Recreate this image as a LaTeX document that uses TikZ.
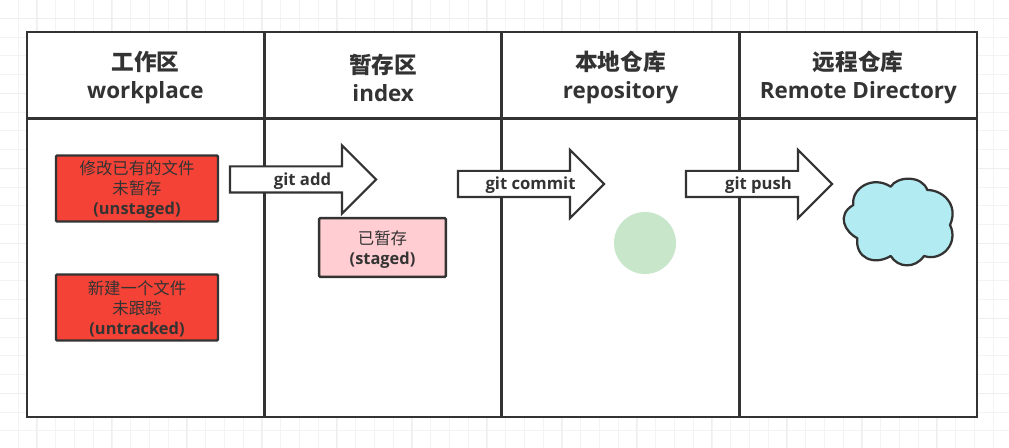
\documentclass[tikz,border=0pt]{standalone}
\usepackage{fontspec}
\setmainfont{Open Sans}
\newfontfamily\cjk{Noto Sans CJK SC}
\usetikzlibrary{shapes.arrows}
\definecolor{ink}{HTML}{333333}
\definecolor{gridline}{HTML}{F3F3F3}
\definecolor{gridheavy}{HTML}{EEEEEE}
\definecolor{boxred}{HTML}{F44336}
\definecolor{boxpink}{HTML}{FFCDD2}
\definecolor{dotgreen}{HTML}{C8E6C9}
\definecolor{cloudblue}{HTML}{B2EBF2}

\begin{document}
\begin{tikzpicture}[x=0.75pt,y=0.75pt]
\tikzstyle{every node}+=[text=ink,align=center,inner sep=0pt]
\tikzstyle{head}=[draw=ink,line width=1.7pt,fill=white,minimum width=177.6pt,minimum height=64.3pt]
\tikzstyle{title}=[font=\bfseries\fontsize{16.8}{21}\selectfont]
\tikzstyle{body}=[draw=ink,line width=1.7pt,fill=white,minimum width=177.6pt,minimum height=223.9pt]
\tikzstyle{state}=[draw=ink,line width=1.8pt,rounded corners=0.8pt,minimum height=49.5pt]
\tikzstyle{note}=[font=\fontsize{12.3}{15}\selectfont]
\tikzstyle{push}=[draw=ink,line width=1.6pt,fill=white,single arrow,single arrow head extend=15.75pt,minimum height=109.5pt,text height=13.5pt,text depth=4.5pt,font=\bfseries\fontsize{12.5}{13}\selectfont,execute at begin node=\hspace*{9pt}]
\useasboundingbox (0,0) rectangle (1009,-448);
\draw [gridline,line width=0.75pt,shift={(18.3,-18.3)},step=14.0625pt] (-18.3,18.3) grid (990.7,-429.7);
\draw [gridheavy,line width=0.9pt,shift={(36.7,-18.3)},step=56.25pt] (-36.7,18.3) grid (972.3,-429.7);
\draw (145.4,-75.2) node (headwork) [head] {};
\draw (145.4,-77.8) node (titlework) [title] {{\cjk\bfseries\fontsize{17}{21}\selectfont 工作区}\\workplace};
\draw (383.2,-75.2) node (headindex) [head] {};
\draw (383.2,-77.8) node (titleindex) [title] {{\cjk\bfseries\fontsize{17}{21}\selectfont 暂存区}\\index};
\draw (620.6,-75.2) node (headrepo) [head] {};
\draw (620.6,-77.8) node (titlerepo) [title] {{\cjk\bfseries\fontsize{17}{21}\selectfont 本地仓库}\\repository};
\draw (858.3,-75.2) node (headremote) [head] {};
\draw (858.3,-77.8) node (titleremote) [title] {{\cjk\bfseries\fontsize{17}{21}\selectfont 远程仓库}\\Remote Directory};
\draw (145.4,-267.75) node (bodywork) [body] {};
\draw (383.2,-267.75) node (bodyindex) [body] {};
\draw (620.6,-267.75) node (bodyrepo) [body] {};
\draw (858.3,-267.75) node (bodyremote) [body] {};
\draw (137,-188.5) node (unstaged) [state,fill=boxred,minimum width=121.5pt] {};
\draw (137,-189.5) node (notestaged) [note] {{\cjk 修改已有的文件}\\{\cjk 未暂存}\\\bfseries (unstaged)};
\draw (137,-307.5) node (untracked) [state,fill=boxred,minimum width=121.5pt] {};
\draw (137,-308.5) node (notetracked) [note] {{\cjk 新建一个文件}\\{\cjk 未跟踪}\\\bfseries (untracked)};
\draw (382.5,-247.5) node (staged) [state,fill=boxpink,minimum width=95pt,minimum height=44pt] {};
\draw (382.5,-249.5) node (noteindex) [note] {{\cjk 已暂存}\\\bfseries (staged)};
\draw (296.5,-179.5) node (gitadd) [push] {git add};
\draw (524.5,-184) node (gitcommit) [push] {git commit};
\draw (752.5,-184) node (gitpush) [push] {git push};
\draw (645,-243) node (commitdot) [circle,fill=dotgreen,minimum size=46.5pt] {};
\draw [ink,fill=cloudblue,line width=1.7pt,line join=round] (853.3,-205)
.. controls (851,-188) and (873,-175) .. (890.7,-186.7)
.. controls (897,-176) and (922,-175) .. (927.3,-190)
.. controls (943,-190) and (959,-205) .. (950,-225)
.. controls (959,-243) and (942,-262) .. (924,-256)
.. controls (915,-269) and (898,-268) .. (890.7,-256)
.. controls (874,-266) and (855,-258) .. (857.3,-238.3)
.. controls (845,-232) and (836,-215) .. (853.3,-205) -- cycle;
\end{tikzpicture}
\end{document}
